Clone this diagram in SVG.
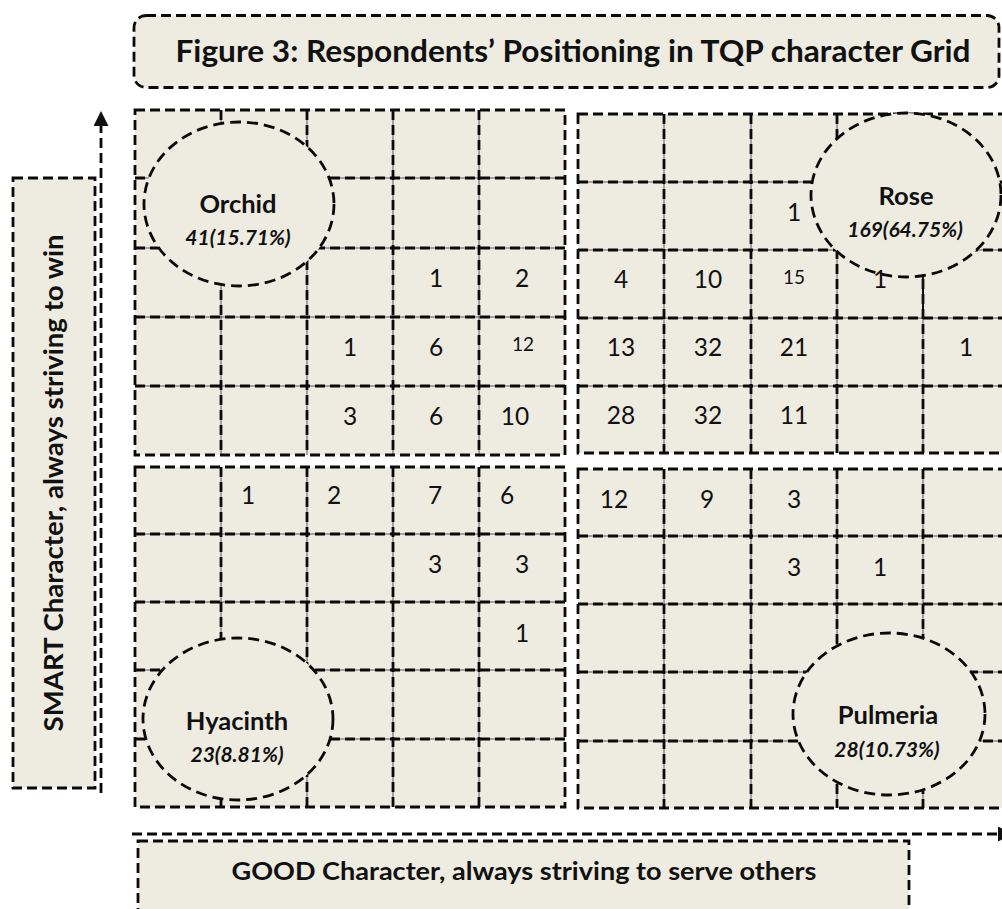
<svg xmlns="http://www.w3.org/2000/svg" width="1002" height="909" viewBox="0 0 1002 909">
  <style>
    .panel { fill: #EEEBE0; }
    .dash { fill: none; stroke: #0a0a0a; stroke-width: 2.8; stroke-dasharray: 10 5; }
    .thin { fill: none; stroke: #333; stroke-width: 0.8; }
    .ring { fill: #EEEBE0; stroke: #0a0a0a; stroke-width: 2.8; stroke-dasharray: 11 6; }
    .num { font-family: Lato, "Open Sans", sans-serif; font-size: 24.5px; fill: #111; text-anchor: middle; }
    .small { font-size: 19px; }
    .name { font-family: Lato, "Open Sans", sans-serif; font-size: 25.5px; font-weight: bold; fill: #111; text-anchor: middle; }
    .pct { font-family: Lato, "Open Sans", sans-serif; font-size: 21px; font-weight: bold; font-style: italic; fill: #111; text-anchor: middle; }
    .head { font-family: Lato, "Open Sans", sans-serif; font-weight: bold; fill: #111; text-anchor: middle; }
  </style>
  <defs>
    <marker id="tip" markerWidth="15" markerHeight="15" refX="0" refY="7.5" orient="auto" markerUnits="userSpaceOnUse">
      <path d="M0,0 L15,7.5 L0,15 Z" fill="#111"/>
    </marker>
  </defs>

  <!-- heading -->
  <g id="title">
    <rect x="134" y="15.5" width="865" height="72" rx="12" class="panel"/>
    <rect x="134" y="15.5" width="865" height="72" rx="12" class="dash" stroke-dasharray="11 5.5"/>
    <text x="573" y="62" class="head" font-size="30" textLength="795" lengthAdjust="spacingAndGlyphs">Figure 3: Respondents’ Positioning in TQP character Grid</text>
  </g>

  <!-- vertical axis caption -->
  <g id="axis-smart">
    <rect x="13" y="178" width="82" height="610" class="panel"/>
    <rect x="13" y="178" width="82" height="610" class="dash"/>
    <text transform="translate(63,483) rotate(-90)" class="head" font-size="26" textLength="497" lengthAdjust="spacingAndGlyphs">SMART Character, always striving to win</text>
  </g>

  <!-- horizontal axis caption -->
  <g id="axis-good">
    <rect x="138" y="841" width="771" height="100" class="panel"/>
    <rect x="138" y="841" width="771" height="100" class="dash"/>
    <text x="524" y="880" class="head" font-size="25.5" textLength="585" lengthAdjust="spacingAndGlyphs">GOOD Character, always striving to serve others</text>
  </g>

  <!-- top-left quadrant -->
  <g id="quadrant-tl">
    <rect x="135" y="110" width="430" height="345" class="panel"/>
    <path class="thin" d="M221,110V455M307,110V455M393,110V455M479,110V455M135,178H565M135,248H565M135,317H565M135,386H565"/>
    <path class="dash" d="M221,110V455M307,110V455M393,110V455M479,110V455M135,178H565M135,248H565M135,317H565M135,386H565"/>
    <rect x="135" y="110" width="430" height="345" class="dash"/>
  </g>

  <!-- top-right quadrant -->
  <g id="quadrant-tr">
    <rect x="578" y="114" width="431" height="339" class="panel"/>
    <path class="thin" d="M664,114V453M751,114V453M837,114V453M923,114V453M578,182H1009M578,250H1009M578,318H1009M578,386H1009"/>
    <path class="dash" d="M664,114V453M751,114V453M837,114V453M923,114V453M578,182H1009M578,250H1009M578,318H1009M578,386H1009"/>
    <rect x="578" y="114" width="431" height="339" class="dash"/>
  </g>

  <!-- bottom-left quadrant -->
  <g id="quadrant-bl">
    <rect x="135" y="467" width="430" height="340" class="panel"/>
    <path class="thin" d="M221,467V807M307,467V807M393,467V807M479,467V807M135,534H565M135,602H565M135,670H565M135,739H565"/>
    <path class="dash" d="M221,467V807M307,467V807M393,467V807M479,467V807M135,534H565M135,602H565M135,670H565M135,739H565"/>
    <rect x="135" y="467" width="430" height="340" class="dash"/>
  </g>

  <!-- bottom-right quadrant -->
  <g id="quadrant-br">
    <rect x="578" y="469" width="431" height="339" class="panel"/>
    <path class="thin" d="M664,469V808M751,469V808M837,469V808M923,469V808M578,536H1009M578,604H1009M578,672H1009M578,741H1009"/>
    <path class="dash" d="M664,469V808M751,469V808M837,469V808M923,469V808M578,536H1009M578,604H1009M578,672H1009M578,741H1009"/>
    <rect x="578" y="469" width="431" height="339" class="dash"/>
  </g>

  <!-- flower groups -->
  <g id="orchid">
    <ellipse cx="239" cy="204" rx="95" ry="82" class="ring"/>
    <text x="238" y="213" class="name">Orchid</text>
    <text x="238" y="245" class="pct">41(15.71%)</text>
  </g>
  <g id="rose">
    <ellipse cx="906" cy="195" rx="95" ry="82" class="ring"/>
    <path d="M923,277V318" stroke="#111" stroke-width="2"/>
    <text x="906" y="205" class="name">Rose</text>
    <text x="905" y="237" class="pct">169(64.75%)</text>
  </g>
  <g id="hyacinth">
    <ellipse cx="238" cy="719" rx="95" ry="81" class="ring"/>
    <text x="237" y="730" class="name">Hyacinth</text>
    <text x="237" y="762" class="pct">23(8.81%)</text>
  </g>
  <g id="pulmeria">
    <ellipse cx="889" cy="714" rx="96" ry="81" class="ring"/>
    <text x="888" y="724" class="name">Pulmeria</text>
    <text x="887" y="757" class="pct">28(10.73%)</text>
  </g>

  <!-- respondent counts per cell -->
  <g id="counts">
    <text x="436" y="287" class="num">1</text>
    <text x="522" y="287" class="num">2</text>
    <text x="350" y="356" class="num">1</text>
    <text x="436" y="356" class="num">6</text>
    <text x="523" y="351" class="num small">12</text>
    <text x="350" y="425" class="num">3</text>
    <text x="436" y="425" class="num">6</text>
    <text x="515" y="425" class="num">10</text>

    <text x="794" y="221" class="num">1</text>
    <text x="621" y="288" class="num">4</text>
    <text x="708" y="288" class="num">10</text>
    <text x="794" y="284" class="num small">15</text>
    <text x="880" y="288" class="num">1</text>
    <text x="621" y="356" class="num">13</text>
    <text x="708" y="356" class="num">32</text>
    <text x="794" y="356" class="num">21</text>
    <text x="966" y="356" class="num">1</text>
    <text x="621" y="424" class="num">28</text>
    <text x="708" y="424" class="num">32</text>
    <text x="794" y="424" class="num">11</text>

    <text x="248" y="504" class="num">1</text>
    <text x="334" y="504" class="num">2</text>
    <text x="435" y="504" class="num">7</text>
    <text x="507" y="504" class="num">6</text>
    <text x="435" y="573" class="num">3</text>
    <text x="522" y="573" class="num">3</text>
    <text x="522" y="642" class="num">1</text>

    <text x="614" y="508" class="num">12</text>
    <text x="707" y="508" class="num">9</text>
    <text x="794" y="508" class="num">3</text>
    <text x="794" y="576" class="num">3</text>
    <text x="880" y="576" class="num">1</text>
  </g>

  <!-- axis arrows -->
  <g id="connectors">
    <path d="M101,793V126" class="dash" marker-end="url(#tip)"/>
    <path d="M132,834H998" class="dash" marker-end="url(#tip)"/>
  </g>
</svg>
